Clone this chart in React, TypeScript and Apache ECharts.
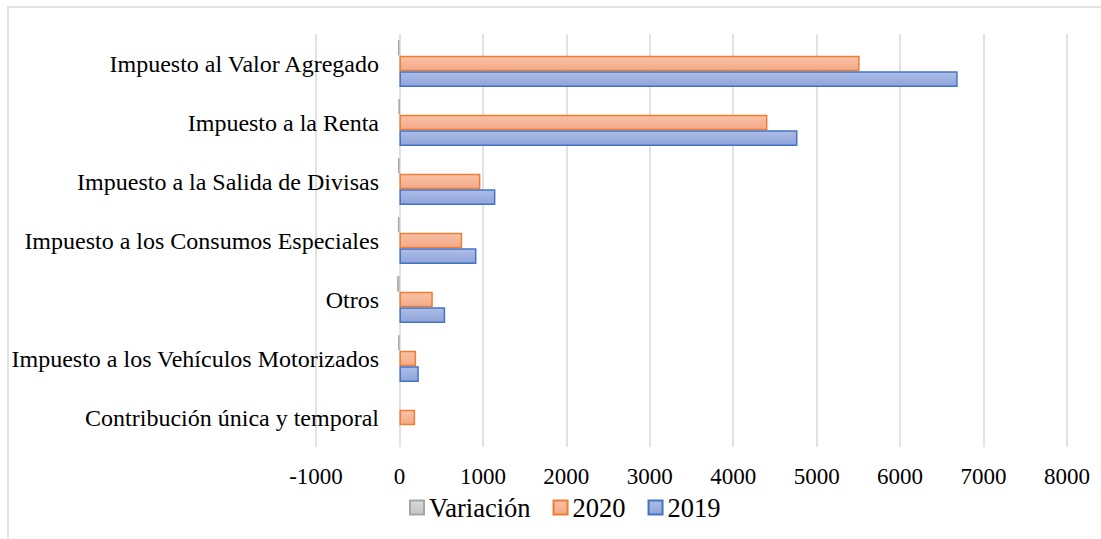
import React, { useEffect, useRef } from "react";
import * as echarts from "echarts";

const categories = [
  "Impuesto al Valor Agregado",
  "Impuesto a la Renta",
  "Impuesto a la Salida de Divisas",
  "Impuesto a los Consumos Especiales",
  "Otros",
  "Impuesto a los Vehículos Motorizados",
  "Contribución única y temporal",
];
const variacion = [-17.6, -7.5, -15.8, -18.6, -27.0, -13.8, null];
const values2020 = [5515, 4410, 970, 752, 400, 200, 188];
const values2019 = [6690, 4770, 1150, 923, 548, 232, null];
const xTicks = { min: -1000, max: 8000, interval: 1000 };

const FONT = "Liberation Serif";

function grad(top: string, bottom: string) {
  return new echarts.graphic.LinearGradient(0, 0, 0, 1, [
    { offset: 0, color: top },
    { offset: 1, color: bottom },
  ]);
}

export default function App() {
  const ref = useRef<HTMLDivElement>(null);
  useEffect(() => {
    if (!ref.current) return;
    const chart = echarts.init(ref.current, undefined, { renderer: "svg" });
    chart.setOption({
      animation: false,
      backgroundColor: "#ffffff",
      textStyle: { fontFamily: FONT },
      graphic: [
        {
          type: "rect",
          shape: { x: 8, y: 7, width: 1200, height: 600 },
          style: { fill: "none", stroke: "#d9d9d9", lineWidth: 1.5 },
          silent: true,
          z: -10,
        },
      ],
      grid: {
        left: 316,
        right: 34,
        top: 34,
        bottom: 92,
        containLabel: false,
        outerBoundsMode: "none",
      },
      legend: {
        left: 404,
        top: 489,
        itemWidth: 14,
        itemHeight: 14,
        itemGap: 22,
        icon: "rect",
        textStyle: { fontFamily: FONT, fontSize: 26.5, color: "#000" },
        data: ["Variación", "2020", "2019"],
      },
      xAxis: {
        type: "value",
        min: xTicks.min,
        max: xTicks.max,
        interval: xTicks.interval,
        axisLine: { show: false },
        axisTick: { show: false },
        axisLabel: {
          fontFamily: FONT,
          fontSize: 23,
          color: "#000",
          margin: 18,
          formatter: (v: number) => String(v),
        },
        splitLine: { lineStyle: { color: "#d9d9d9", width: 1.5 } },
      },
      yAxis: {
        type: "category",
        data: categories,
        inverse: true,
        axisLine: { show: false },
        axisTick: { show: false },
        axisLabel: {
          fontFamily: FONT,
          fontSize: 24,
          color: "#000",
          margin: -63,
        },
      },
      series: [
        {
          name: "Variación",
          type: "bar",
          data: variacion,
          barGap: "0%",
          barCategoryGap: "20%",
          itemStyle: {
            color: grad("#d9d9d9", "#c4c4c4"),
            borderColor: "#a5a5a5",
            borderWidth: 1,
          },
        },
        {
          name: "2020",
          type: "bar",
          data: values2020,
          barGap: "0%",
          barCategoryGap: "20%",
          itemStyle: {
            color: grad("#f8c1a6", "#f4aa88"),
            borderColor: "#ed7d31",
            borderWidth: 1.5,
          },
        },
        {
          name: "2019",
          type: "bar",
          data: values2019,
          barGap: "0%",
          barCategoryGap: "20%",
          itemStyle: {
            color: grad("#adbde6", "#8fa4da"),
            borderColor: "#4472c4",
            borderWidth: 1.5,
          },
        },
      ],
    });
    return () => chart.dispose();
  }, []);
  return (
    <div
      ref={ref}
      style={{ position: "fixed", left: 0, top: 0, width: 1101, height: 539 }}
    />
  );
}
